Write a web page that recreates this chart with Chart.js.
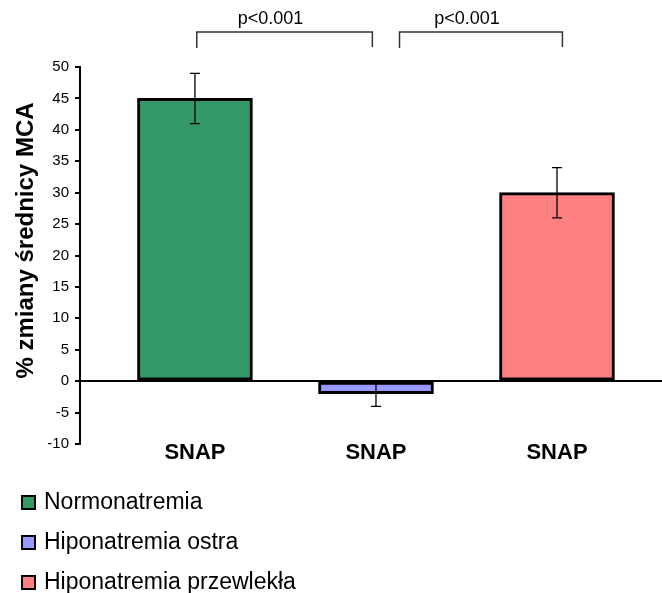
<!DOCTYPE html>
<html>
<head>
<meta charset="utf-8">
<script src="https://cdn.jsdelivr.net/npm/chart.js@4.4.0/dist/chart.umd.min.js"></script>
<style>
  html, body { margin: 0; padding: 0; background: #fff; }
  #wrap { width: 662px; height: 593px; }
</style>
</head>
<body>
<div id="wrap"><canvas id="chart" width="662" height="593"></canvas></div>
<script>
// DATA
const categories = ['SNAP', 'SNAP', 'SNAP'];
const groups = ['Normonatremia', 'Hiponatremia ostra', 'Hiponatremia przewlekła'];
const values = [45, -2, 30];
const errors = [4, 2, 4];
const yTicks = [-10, -5, 0, 5, 10, 15, 20, 25, 30, 35, 40, 45, 50];
const yTitle = '% zmiany średnicy MCA';
// brackets between groups, in x units (group n sits at x = n)
const comparisons = [
    { from: 1.01, to: 1.98, label: 'p<0.001' },
    { from: 2.13, to: 3.03, label: 'p<0.001' }
];
const colors = ['#339966', '#9999ff', '#ff8080'];

const FONT = "'Liberation Sans', Arial, sans-serif";

// ERROR BARS
const errorBars = {
    id: 'errorBars',
    afterDatasetsDraw(chart) {
        const { ctx } = chart;
        const y = chart.scales.y;
        ctx.save();
        ctx.strokeStyle = '#000';
        ctx.lineWidth = 1.3;
        chart.data.datasets.forEach((ds, i) => {
            const bar = chart.getDatasetMeta(i).data[0];
            const v = ds.data[0].y;
            const hi = y.getPixelForValue(v + errors[i]);
            const lo = y.getPixelForValue(v - errors[i]);
            const x = bar.x;
            ctx.beginPath();
            ctx.moveTo(x, hi); ctx.lineTo(x, lo);
            ctx.moveTo(x - 5, hi); ctx.lineTo(x + 5, hi);
            ctx.moveTo(x - 5, lo); ctx.lineTo(x + 5, lo);
            ctx.stroke();
        });
        ctx.restore();
    }
};

// P VALUE BRACKETS + Y TITLE
const annotations = {
    id: 'annotations',
    afterDraw(chart) {
        const { ctx, chartArea } = chart;
        const x = chart.scales.x;
        const top = chartArea.top - 35;
        ctx.save();
        ctx.strokeStyle = '#333';
        ctx.lineWidth = 1.5;
        ctx.fillStyle = '#000';
        ctx.font = '18px ' + FONT;
        ctx.textAlign = 'center';
        ctx.textBaseline = 'alphabetic';
        comparisons.forEach(c => {
            const x1 = x.getPixelForValue(c.from);
            const x2 = x.getPixelForValue(c.to);
            ctx.beginPath();
            ctx.moveTo(x1, top + 16);
            ctx.lineTo(x1, top);
            ctx.lineTo(x2, top);
            ctx.lineTo(x2, top + 15);
            ctx.stroke();
            ctx.fillText(c.label, (x1 + x2) / 2 - 14, top - 8);
        });

        // axis title sits a little above the middle of the axis
        ctx.translate(26, (chartArea.top + chartArea.bottom) / 2 - 15);
        ctx.rotate(-Math.PI / 2);
        ctx.font = 'bold 24px ' + FONT;
        ctx.textBaseline = 'middle';
        ctx.fillText(yTitle, 0, 0);
        ctx.restore();
    }
};

// LEGEND (one item per row, bottom left)
const sideLegend = {
    id: 'sideLegend',
    afterDraw(chart) {
        const { ctx } = chart;
        ctx.save();
        ctx.font = '23px ' + FONT;
        ctx.textBaseline = 'middle';
        ctx.textAlign = 'left';
        chart.data.datasets.forEach((ds, i) => {
            const cy = 502 + i * 40;
            ctx.fillStyle = ds.backgroundColor;
            ctx.fillRect(22, cy - 6, 13, 13);
            ctx.strokeStyle = '#000';
            ctx.lineWidth = 2;
            ctx.strokeRect(22, cy - 6, 13, 13);
            ctx.fillStyle = '#000';
            ctx.fillText(ds.label, 44, cy + 1);
        });
        ctx.restore();
    }
};

const datasets = groups.map((g, i) => ({
    label: g,
    data: [{ x: i + 1, y: values[i] }],
    backgroundColor: colors[i],
    borderColor: '#000',
    borderWidth: 3,
    borderSkipped: false,
    barThickness: 115,
    grouped: false
}));

new Chart(document.getElementById('chart'), {
    type: 'bar',
    data: { datasets },
    options: {
        responsive: false,
        animation: false,
        layout: { padding: { top: 67, left: 0, right: 0, bottom: 0 } },
        plugins: {
            legend: { display: false },
            tooltip: { enabled: false }
        },
        scales: {
            x: {
                type: 'linear',
                min: 0.365,
                max: 3.58,
                offset: false,
                afterBuildTicks: s => { s.ticks = categories.map((c, i) => ({ value: i + 1 })); },
                afterFit: s => { s.height = 149; },
                grid: { display: false, drawTicks: false },
                border: { display: false },
                ticks: {
                    autoSkip: false,
                    maxRotation: 0,
                    padding: -4,
                    color: '#000',
                    font: { family: FONT, size: 22, weight: 'bold' },
                    callback: (v, i) => categories[i]
                }
            },
            y: {
                min: -10,
                max: 50,
                afterBuildTicks: s => { s.ticks = yTicks.map(v => ({ value: v })); },
                afterFit: s => { s.width = 80; },
                border: { display: true, color: '#000', width: 2 },
                grid: {
                    drawOnChartArea: true,
                    drawTicks: true,
                    tickLength: 5,
                    lineWidth: 2,
                    tickColor: '#000',
                    color: c => (c.tick && c.tick.value === 0 ? '#000' : 'rgba(0,0,0,0)')
                },
                ticks: {
                    padding: 6,
                    color: '#000',
                    font: { family: FONT, size: 15 }
                }
            }
        }
    },
    plugins: [errorBars, annotations, sideLegend]
});
</script>
</body>
</html>
